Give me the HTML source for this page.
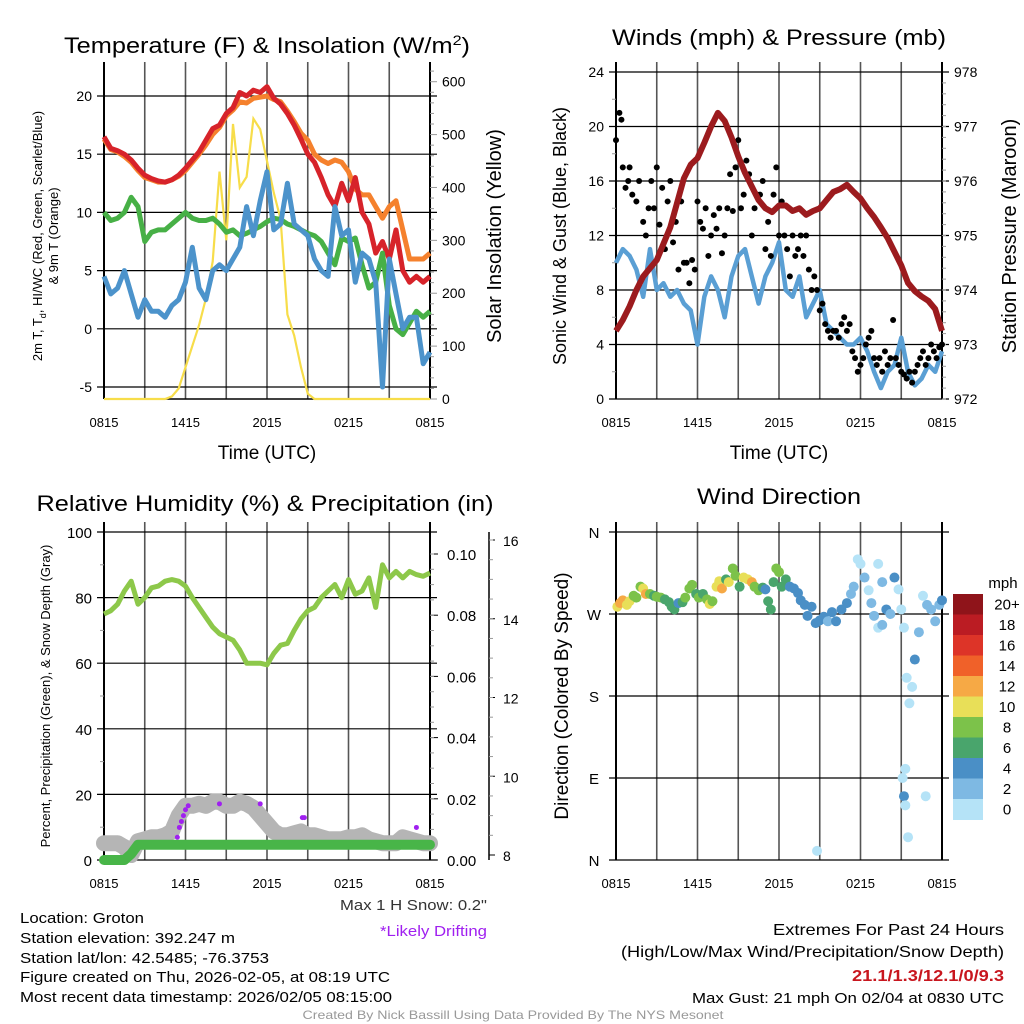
<!DOCTYPE html>
<html><head><meta charset="utf-8"><style>
html,body{margin:0;padding:0;background:#fff;}
svg{display:block;font-family:"Liberation Sans",Arial,sans-serif;}
</style></head><body>
<svg id="fig" width="1024" height="1024" viewBox="0 0 1024 1024" xmlns="http://www.w3.org/2000/svg">
<rect width="1024" height="1024" fill="#fff"/>
<text x="267" y="53" font-size="22" text-anchor="middle" textLength="406" lengthAdjust="spacingAndGlyphs">Temperature (F) &amp; Insolation (W/m<tspan dy="-8" font-size="14">2</tspan><tspan dy="8">)</tspan></text>
<text x="779" y="45" font-size="22" text-anchor="middle" textLength="334" lengthAdjust="spacingAndGlyphs">Winds (mph) &amp; Pressure (mb)</text>
<text x="265" y="511" font-size="22" text-anchor="middle" textLength="457" lengthAdjust="spacingAndGlyphs">Relative Humidity (%) &amp; Precipitation (in)</text>
<text x="779" y="504" font-size="22" text-anchor="middle" textLength="164" lengthAdjust="spacingAndGlyphs">Wind Direction</text>
<g id="layer"></g>
<g font-size="15">
<text x="20" y="923" textLength="124" lengthAdjust="spacingAndGlyphs">Location: Groton</text>
<text x="20" y="943" textLength="215" lengthAdjust="spacingAndGlyphs">Station elevation: 392.247 m</text>
<text x="20" y="963" textLength="249" lengthAdjust="spacingAndGlyphs">Station lat/lon: 42.5485; -76.3753</text>
<text x="20" y="982" textLength="370" lengthAdjust="spacingAndGlyphs">Figure created on Thu, 2026-02-05, at 08:19 UTC</text>
<text x="20" y="1002" textLength="372" lengthAdjust="spacingAndGlyphs">Most recent data timestamp: 2026/02/05 08:15:00</text>
</g>
<text x="487" y="910" font-size="15" fill="#333" text-anchor="end" textLength="147" lengthAdjust="spacingAndGlyphs">Max 1 H Snow: 0.2"</text>
<text x="487" y="936" font-size="15" fill="#a020f0" text-anchor="end" textLength="107" lengthAdjust="spacingAndGlyphs">*Likely Drifting</text>
<g font-size="16" text-anchor="end">
<text x="1004" y="935" textLength="231" lengthAdjust="spacingAndGlyphs">Extremes For Past 24 Hours</text>
<text x="1004" y="957" textLength="383" lengthAdjust="spacingAndGlyphs">(High/Low/Max Wind/Precipitation/Snow Depth)</text>
<text x="1004" y="981" fill="#c8161e" font-weight="bold" textLength="152" lengthAdjust="spacingAndGlyphs">21.1/1.3/12.1/0/9.3</text>
<text x="1004" y="1003" font-size="15" textLength="312" lengthAdjust="spacingAndGlyphs">Max Gust: 21 mph On 02/04 at 0830 UTC</text>
</g>
<text x="513" y="1019" font-size="12" fill="#999" text-anchor="middle" textLength="421" lengthAdjust="spacingAndGlyphs">Created By Nick Bassill Using Data Provided By The NYS Mesonet</text>
</svg>
<script>
// ---- data (half-hour steps, hours since 0815 UTC) ----
const hrs = [0,0.5,1,1.5,2,2.5,3,3.5,4,4.5,5,5.5,6,6.5,7,7.5,8,8.5,9,9.5,10,10.5,11,11.5,12,12.5,13,13.5,14,14.5,15,15.5,16,16.5,17,17.5,18,18.5,19,19.5,20,20.5,21,21.5,22,22.5,23,23.5,24];
const xTickLabels = ["0815","1415","2015","0215","0815"];
const tempRed = [16.5,15.5,15.3,15,14.5,13.8,13.2,12.9,12.7,12.6,12.8,13.2,13.8,14.5,15.2,16.2,17.2,17.5,18.5,19,20.3,20,20.5,20.3,20.8,19.8,19.3,18.5,17.5,16.3,15,14.3,13,11.5,10.5,12.5,11,13,10,9,6.5,7.5,6,8.5,5,4,4.5,4,4.5];
const tempOrange = [16.3,15.4,15.2,14.8,14.3,13.6,13,12.8,12.6,12.6,12.8,13.1,13.6,14.3,15,15.8,16.7,17.3,18.3,18.8,19.5,19.4,19.8,19.9,20,19.7,19.5,18.7,17.8,16.8,16.2,15,14.5,14.2,14.5,14.3,13.5,12,11.5,11.5,10.5,9.5,10.5,11,8.5,6,6,6,6.5];
const tempGreen = [10,9.3,9.5,10,11.3,10.5,7.5,8.3,8.5,8.5,9,9.5,10,9.5,9.3,9.3,9.5,9,8.3,8.5,8,8.2,8.5,8.8,9.2,9.5,9.4,9,8.8,8.5,8.2,8,7.5,6.5,5.5,7.8,7.5,7.8,5.5,3.5,4,6.5,2,0,-0.5,0.5,1.5,1,1.5];
const tempBlue = [4.5,3,3.5,5,3,1,2.5,1.5,1.5,1,2,2.5,4,7,3.5,2.5,5,5.5,5,6,7,10.5,8,11,13.5,8.5,9,12.5,9,8.5,8,6,5,4.5,10.5,8,8.5,4,6.5,6,4,-5,6,3,0,1,1,-3,-2];
const solar = [0,0,0,0,0,0,0,0,0,0,5,20,60,100,140,190,260,430,300,520,400,420,530,510,450,390,340,160,120,60,10,0,0,0,0,0,0,0,0,0,0,0,0,0,0,0,0,0,0];
const windSonic = [10,11,10.5,9.5,7.5,11,8,8.5,7.5,8,7,6.5,4,7.5,9,8,6,9,10.5,11,9,7,9,10,11.5,8,7.5,9,6,7,8,5.5,5,4.5,4,4,4.5,3.5,2,0.8,2,2.5,4.5,2,1,1.5,2.5,2,3.5];
const gustHrs = [0,0.25,0.4,0.5,0.7,0.9,1,1.2,1.5,1.7,2,2.2,2.4,2.6,2.8,3,3.2,3.4,3.6,3.8,4,4.2,4.4,4.6,4.8,5,5.2,5.4,5.6,5.8,6,6.2,6.4,6.6,6.8,7,7.2,7.4,7.6,7.8,8,8.2,8.4,8.6,8.8,9,9.2,9.4,9.6,9.8,10,10.2,10.4,10.6,10.8,11,11.2,11.4,11.6,11.8,12,12.2,12.4,12.6,12.8,13,13.2,13.4,13.6,13.8,14,14.2,14.4,14.6,14.8,15,15.2,15.4,15.6,15.8,16,16.2,16.4,16.6,16.8,17,17.2,17.4,17.6,17.8,18,18.2,18.4,18.6,18.8,19,19.2,19.4,19.6,19.8,20,20.2,20.4,20.6,20.8,21,21.2,21.4,21.6,21.8,22,22.2,22.4,22.6,22.8,23,23.2,23.4,23.6,23.8,24];
const gustVals = [19,21,20.5,17,15.5,16,17,15,14.5,16,13,12,14,16,14,17,12.8,15.5,11,14.5,16,11.5,13,9.5,14.5,10,10,8.5,10.2,9.5,14.5,13,12.5,14,10.5,12,13.5,12.5,14,10.7,12,14,16.5,13.8,17,19,14,15,17.5,16.5,12,14,15,15,16,11,13,10.5,15,17,12,14.5,12,11,9,12,10.5,11,12,10.5,12,9.5,8,9,8,6.5,7,5.5,5,4.5,5,5,4.5,5.5,6,5,5.5,3.5,3,2,2.5,3,4,4.5,5,3,2.5,3,2,3.5,2.5,3,5.8,3,2.5,2,1.8,1.5,2,1.2,2,2.5,3,3.5,2.5,3,4,3.5,3,3.8,4,4.2];
const pressure = [973.25,973.45,973.7,974.0,974.25,974.4,974.55,974.85,975.15,975.6,976.05,976.3,976.42,976.7,977.0,977.25,977.1,976.8,976.45,976.15,975.9,975.65,975.5,975.43,975.55,975.55,975.45,975.5,975.38,975.45,975.5,975.65,975.8,975.85,975.93,975.8,975.68,975.5,975.34,975.15,974.95,974.7,974.45,974.13,973.98,973.88,973.8,973.65,973.25];
const rh = [75,76,78,82,85,78,80,83,83.5,85,85.5,85,83.5,80,77,74,71,69,68,67,64,60,60,60,59.5,63,65.5,66,70,73.5,76,77,80,82,84,80,85.5,81,82,86,77,90,86,88,86,88,87,86.5,87.5];
const precip = [0,0,0,0,0.002,0.005,0.005,0.005,0.005,0.005,0.005,0.005,0.005,0.005,0.005,0.005,0.005,0.005,0.005,0.005,0.005,0.005,0.005,0.005,0.005,0.005,0.005,0.005,0.005,0.005,0.005,0.005,0.005,0.005,0.005,0.005,0.005,0.005,0.005,0.005,0.005,0.005,0.005,0.005,0.005,0.005,0.005,0.005,0.005];
const snowDepth = [8.3,8.3,8.3,8.2,8.0,8.35,8.4,8.45,8.45,8.5,8.6,9.0,9.25,9.25,9.3,9.25,9.35,9.35,9.25,9.25,9.35,9.3,9.2,9.0,8.8,8.6,8.5,8.5,8.55,8.6,8.5,8.5,8.45,8.4,8.4,8.4,8.45,8.45,8.5,8.4,8.35,8.3,8.3,8.3,8.45,8.4,8.35,8.3,8.3];
const driftHrs = [5.4,5.55,5.7,5.85,6.0,6.2,8.5,11.5,14.6,14.75,23.0];
const driftVals = [8.45,8.7,8.85,9.0,9.15,9.25,9.3,9.3,8.95,8.95,8.7];
const dirHrs = [0.1,0.3,0.5,0.8,1,1.3,1.5,1.8,2,2.2,2.5,2.8,3,3.3,3.6,3.9,4.1,4.3,4.6,4.9,5.1,5.4,5.6,5.9,6.1,6.4,6.7,6.9,7.1,7.4,7.6,7.8,8.1,8.3,8.6,8.8,9.1,9.4,9.7,10,10.2,10.5,10.8,11,11.2,11.4,11.6,11.8,12,12.2,12.5,12.8,13.1,13.4,13.6,13.9,14.1,14.4,14.7,15,15.3,15.6,15.9,16.2,16.6,17,17.3,17.5,17.8,18,18.3,18.6,18.8,19,19.3,19.6,19.9,20.2,20.5,20.8,21,21.2,21.4,21.6,21.8,22,22.3,22.6,22.9,23.2,23.5,23.8,24,21.1,21.2,21.3,22.8,21.5,14.8,21.3,19.3,19.6];
const dirDeg = [278,282,285,280,284,290,288,300,298,292,292,290,289,288,286,283,278,275,282,283,288,298,302,292,288,292,286,281,284,300,306,298,308,305,320,312,300,310,308,305,300,296,299,297,284,275,305,320,316,300,308,300,298,293,285,280,268,278,260,263,267,262,272,262,275,282,292,300,330,325,310,296,282,268,255,258,275,270,310,297,275,255,200,172,190,220,250,290,280,275,262,280,285,90,70,60,70,25,10,100,325,305];
const dirSpd = [11,13,12,10,10,9,8,9,10,12,8,7,8,8,7,6,6,6,4,7,8,8,9,6,9,7,8,10,9,10,11,12,7,10,8,8,7,10,10,12,8,9,6,4,6,6,6,8,8,7,6,5,4,5,4,4,4,4,4,4,4,3,4,4,4,4,3,2,1,1,3,1,2,2,1,2,4,2,4,1,1,1,1,1,1,4,2,1,2,3,2,3,4,1,4,1,1,1,1,1,1,2];
const cbarLabels = ["20+","18","16","14","12","10","8","6","4","2","0"];
const cbarColors = ["#8f141a","#bb1c23","#dd3428","#f06129","#f6a945","#e8df58","#7cc24a","#49a56c","#4a8fc6","#7eb9e3","#b5e3f7"];

const NS="http://www.w3.org/2000/svg";
const layer=document.getElementById('layer');
function mk(tag,attrs,parent){const e=document.createElementNS(NS,tag);for(const k in attrs)e.setAttribute(k,attrs[k]);(parent||layer).appendChild(e);return e;}
function lin(d0,d1,r0,r1){return v=>r0+(v-d0)*(r1-r0)/(d1-d0);}
function pathFrom(xs,ys,fx,fy){const n=Math.min(xs.length,ys.length);let d='';for(let i=0;i<n;i++)d+=(i?'L':'M')+fx(xs[i]).toFixed(1)+','+fy(ys[i]).toFixed(1);return d;}
function txt(x,y,s,size,anchor,parent,extra){const t=mk('text',Object.assign({x:x,y:y,'font-size':size,'text-anchor':anchor||'middle'},extra||{}),parent);t.textContent=s;return t;}

function frame(L,R,T,B,name){
  const g=mk('g',{});
  
  
  const fx=lin(0,24,L,R);
  for(let h=3;h<24;h+=3){mk('line',{x1:fx(h),x2:fx(h),y1:T-10,y2:B,stroke:'#555','stroke-width':1.6},g);}
  mk('line',{x1:L,x2:L,y1:T-10,y2:B,stroke:'#000','stroke-width':2},g);
  mk('line',{x1:R,x2:R,y1:T-10,y2:B,stroke:'#000','stroke-width':2},g);
  xTickLabels.forEach((lab,i)=>{txt(fx(i*6),B+28,lab,13,'middle',g);});
  return {g,fx};
}
function hgrid(g,L,R,y,w){mk('line',{x1:L-7,x2:R+7,y1:y,y2:y,stroke:'#000','stroke-width':w||1.2},g);}

// ===== Panel 1: temperature =====
(function(){
  const L=104,R=430,T=72,B=399;
  const {g,fx}=frame(L,R,T,B,'temperature');
  const fy=lin(-5,20,387,96), fs=lin(0,600,399,81.7);
  [-5,0,5,10,15,20].forEach(v=>{hgrid(g,L,R,fy(v));txt(L-12,fy(v)+5,String(v),14,'end',g);});
  [0,100,200,300,400,500,600].forEach(v=>{txt(R+12,fs(v)+5,String(v),14,'start',g);});
  for(let v=0;v<=620;v+=20){mk('line',{x1:R,x2:R+(v%100==0?7:4),y1:fs(v),y2:fs(v),stroke:'#999','stroke-width':1},g);}
  mk('line',{x1:L,x2:R,y1:B,y2:B,stroke:'#000','stroke-width':1.5},g);
  const ys=mk('path',{d:pathFrom(hrs,solar,fx,fs),fill:'none',stroke:'#f7dd4a','stroke-width':2.2});
  
  
  const po=mk('path',{d:pathFrom(hrs,tempOrange,fx,fy),fill:'none',stroke:'#f5812d','stroke-width':5,'stroke-linejoin':'round'});
  
  
  const pr=mk('path',{d:pathFrom(hrs,tempRed,fx,fy),fill:'none',stroke:'#d7232a','stroke-width':5,'stroke-linejoin':'round'});
  
  
  const pg=mk('path',{d:pathFrom(hrs,tempGreen,fx,fy),fill:'none',stroke:'#47b046','stroke-width':5,'stroke-linejoin':'round'});
  
  
  const pb=mk('path',{d:pathFrom(hrs,tempBlue,fx,fy),fill:'none',stroke:'#4c93cb','stroke-width':5,'stroke-linejoin':'round'});
  
  
  const t1=txt(0,0,'2m T, T',13,'middle',g,{transform:'translate(42,236) rotate(-90)'});
  const sub=mk('tspan',{dy:4,'font-size':9},t1);sub.textContent='d';
  const rest=mk('tspan',{dy:-4},t1);rest.textContent=', HI/WC (Red, Green, Scarlet/Blue)';
  
  
  txt(0,0,'& 9m T (Orange)',13,'middle',g,{transform:'translate(58,236) rotate(-90)'});
  const t2=txt(0,0,'Solar Insolation (Yellow)',20,'middle',g,{transform:'translate(501,236) rotate(-90)'});
  
  
  const t3=txt((L+R)/2,459,'Time (UTC)',19,'middle',g);
  
  
})();

// ===== Panel 2: winds =====
(function(){
  const L=616,R=942,T=72,B=399;
  const {g,fx}=frame(L,R,T,B,'winds');
  const fy=lin(0,24,399,72), fp=lin(972,978,399,72);
  [0,4,8,12,16,20,24].forEach(v=>{hgrid(g,L,R,fy(v));txt(L-12,fy(v)+5,String(v),14,'end',g);});
  for(let v=0;v<=24;v+=2){if(v%4)mk('line',{x1:L-4,x2:L,y1:fy(v),y2:fy(v),stroke:'#999'},g);}
  [972,973,974,975,976,977,978].forEach(v=>{txt(R+12,fp(v)+5,String(v),14,'start',g);});
  for(let v=972;v<=978;v+=0.2){mk('line',{x1:R,x2:R+4,y1:fp(v),y2:fp(v),stroke:'#999'},g);}
  const pw=mk('path',{d:pathFrom(hrs,windSonic,fx,fy),fill:'none',stroke:'#5a9fd4','stroke-width':4.5,'stroke-linejoin':'round'});
  
  
  const gg=mk('g',{});
  
  
  gustHrs.forEach((h,i)=>{if(gustVals[i]===undefined)return;
    const c=mk('circle',{cx:fx(h),cy:fy(gustVals[i]),r:3,fill:'#000'},gg);
    
    });
  const pp=mk('path',{d:pathFrom(hrs,pressure,fx,fp),fill:'none',stroke:'#9c1b1e','stroke-width':6,'stroke-linejoin':'round'});
  
  
  const a=txt(0,0,'Sonic Wind & Gust (Blue, Black)',18,'middle',g,{transform:'translate(566,236) rotate(-90)'});
  
  
  const b=txt(0,0,'Station Pressure (Maroon)',20,'middle',g,{transform:'translate(1016,236) rotate(-90)'});
  
  
  const c=txt((L+R)/2,459,'Time (UTC)',19,'middle',g);
  
  
})();

// ===== Panel 3: RH & precip =====
(function(){
  const L=104,R=430,T=532,B=860;
  const {g,fx}=frame(L,R,T,B,'humidity');
  const fy=lin(0,100,860,532), fpr=lin(0,0.1,860,554), fsn=lin(8,16,855,540);
  [0,20,40,60,80,100].forEach(v=>{hgrid(g,L,R,fy(v));txt(L-12,fy(v)+6,String(v),15,'end',g);});
  for(let v=10;v<100;v+=20)mk('line',{x1:L-4,x2:L,y1:fy(v),y2:fy(v),stroke:'#999'},g);
  ['0.00','0.02','0.04','0.06','0.08','0.10'].forEach(s=>{const v=+s;mk('line',{x1:R,x2:R+8,y1:fpr(v),y2:fpr(v),stroke:'#000'},g);txt(R+17,fpr(v)+6,s,15,'start',g);});
  for(let v=0.005;v<0.105;v+=0.005)mk('line',{x1:R,x2:R+4,y1:fpr(v),y2:fpr(v),stroke:'#999'},g);
  mk('line',{x1:489,x2:489,y1:532,y2:860,stroke:'#000','stroke-width':1.5},g);
  [8,10,12,14,16].forEach(v=>{mk('line',{x1:489,x2:495,y1:fsn(v),y2:fsn(v),stroke:'#000'},g);txt(503,fsn(v)+6,String(v),14,'start',g);});
  for(let v=8.5;v<16.2;v+=0.5)mk('line',{x1:489,x2:493,y1:fsn(v),y2:fsn(v),stroke:'#999'},g);
  const ps=mk('path',{d:pathFrom(hrs,snowDepth,fx,fsn),fill:'none',stroke:'#b5b5b5','stroke-width':16,'stroke-linejoin':'round','stroke-linecap':'round'});
  
  
  const pc=mk('path',{d:pathFrom(hrs,precip,fx,fpr),fill:'none',stroke:'#48b548','stroke-width':10,'stroke-linejoin':'round','stroke-linecap':'round'});
  
  
  driftHrs.forEach((h,i)=>{const c=mk('circle',{cx:fx(h),cy:fsn(driftVals[i]),r:2.5,fill:'#a020f0'});
    
    });
  const pr=mk('path',{d:pathFrom(hrs,rh,fx,fy),fill:'none',stroke:'#8dc84a','stroke-width':5,'stroke-linejoin':'round'});
  
  
  const a=txt(0,0,'Percent, Precipitation (Green), & Snow Depth (Gray)',13,'middle',g,{transform:'translate(50,696) rotate(-90)'});
  
  
})();

// ===== Panel 4: wind direction =====
(function(){
  const L=616,R=942,T=532,B=860;
  const {g,fx}=frame(L,R,T,B,'direction');
  const fy=lin(0,360,860,532);
  [[360,'N'],[270,'W'],[180,'S'],[90,'E'],[0,'N']].forEach(([v,s])=>{hgrid(g,L,R,fy(v));txt(L-22,fy(v)+6,s,15,'middle',g);});
  dirHrs.forEach((h,i)=>{if(dirDeg[i]===undefined||dirSpd[i]===undefined)return;
    const k=Math.min(10,Math.floor(dirSpd[i]/2));
    const c=mk('circle',{cx:fx(h),cy:fy(dirDeg[i]),r:5,fill:cbarColors[10-k]});
    
    });
  const a=txt(0,0,'Direction (Colored By Speed)',19,'middle',g,{transform:'translate(568,696) rotate(-90)'});
  
  
  const cb=mk('g',{});
  
  
  const y0=594,h=20.5;
  cbarColors.forEach((c,i)=>{mk('rect',{x:953,y:y0+i*h,width:30,height:h+0.5,fill:c},cb);
    txt(1007,y0+i*h+h/2+5,cbarLabels[i],15,'middle',cb);});
  txt(1003,588,'mph',15,'middle',cb);
})();
</script>
</body></html>
